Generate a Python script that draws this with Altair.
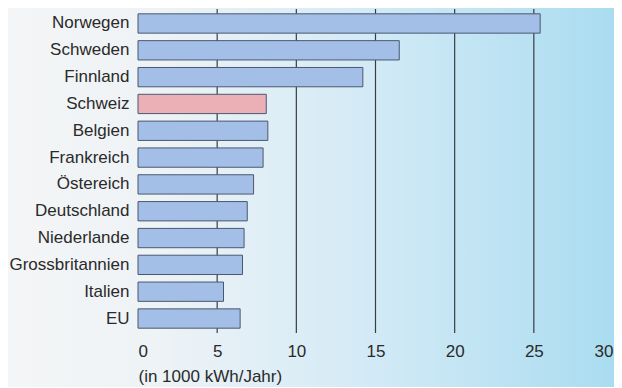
import altair as alt
import pandas as pd

countries = ["Norwegen", "Schweden", "Finnland", "Schweiz", "Belgien", "Frankreich",
             "Östereich", "Deutschland", "Niederlande", "Grossbritannien", "Italien", "EU"]
values = [25.4, 16.5, 14.2, 8.1, 8.2, 7.9, 7.3, 6.9, 6.7, 6.6, 5.4, 6.45]
highlight = ["no", "no", "no", "yes", "no", "no", "no", "no", "no", "no", "no", "no"]
grid_values = [5, 10, 15, 20, 25]
tick_values = [0, 5, 10, 15, 20, 25, 30]

df = pd.DataFrame({"land": countries, "wert": values, "hl": highlight})
grid_df = pd.DataFrame({"g": grid_values})
bg_df = pd.DataFrame({"a": [0]})

FONT = "Liberation Sans"
FS = 17

bg = alt.Chart(bg_df).mark_rect(
    color=alt.Gradient(
        gradient="linear",
        stops=[
            alt.GradientStop(color="#f4f5f6", offset=0),
            alt.GradientStop(color="#eef3f6", offset=0.25),
            alt.GradientStop(color="#d3eaf6", offset=0.6),
            alt.GradientStop(color="#a9dcf0", offset=1),
        ],
        x1=0, x2=1, y1=0, y2=0,
    )
).encode(
    x=alt.value(-140), x2=alt.value(480), y=alt.value(-12), y2=alt.value(392)
)

grid = alt.Chart(grid_df).mark_rule(color="#3a3d40", strokeWidth=1.2).encode(
    x=alt.X("g:Q", scale=alt.Scale(domain=[0, 30], nice=False))
)

bars = alt.Chart(df).mark_bar(stroke="#4a5870", strokeWidth=1).encode(
    y=alt.Y("land:N", sort=countries,
            scale=alt.Scale(paddingInner=0.28, paddingOuter=0.18),
            axis=alt.Axis(title=None, ticks=False, domain=False, labelFont=FONT,
                          labelFontSize=FS, labelColor="#2a2a2a", labelPadding=9,
                          zindex=1)),
    x=alt.X("wert:Q", scale=alt.Scale(domain=[0, 30], nice=False),
            axis=alt.Axis(values=tick_values, grid=False, ticks=False, domain=False,
                          labelFlush=True, labelFont=FONT, labelFontSize=FS,
                          labelColor="#2a2a2a", labelPadding=10,
                          title="(in 1000 kWh/Jahr)", titleFont=FONT,
                          titleFontSize=FS, titleFontWeight="normal",
                          titleColor="#2a2a2a", titleX=0, titleY=43,
                          titleAlign="left", titleBaseline="middle", zindex=1)),
    color=alt.Color("hl:N", scale=alt.Scale(domain=["no", "yes"],
                                            range=["#a3bfe7", "#eab0b6"]),
                    legend=None),
)

chart = alt.layer(bg, grid, bars).properties(
    width=475, height=324,
    autosize=alt.AutoSizeParams(type="none"),
    padding={"left": 130, "top": 1, "right": 1, "bottom": 54},
).configure_view(stroke="#3a3d40", strokeWidth=1.3).configure(background="#f4f5f6")

chart.save("out.html", embed_options={"renderer": "svg", "actions": False})
